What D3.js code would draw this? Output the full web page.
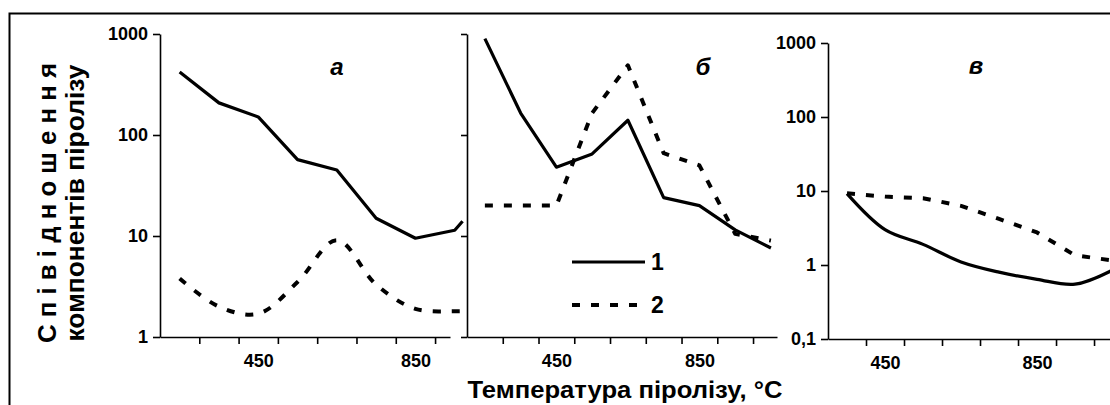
<!DOCTYPE html>
<html>
<head>
<meta charset="utf-8">
<script src="https://cdn.jsdelivr.net/npm/d3@7"></script>
<style>
  body { margin: 0; background: #fff; }
  text { font-family: "Liberation Sans", Arial, sans-serif; font-weight: bold; fill: #000; }
</style>
</head>
<body>
<script>
// Panel а
const tempsA = [250, 350, 450, 550, 650, 750, 850, 950, 970];
const aSolid = [420, 208, 151, 57, 45, 15, 9.5, 11.4, 14];
const aDashed = [3.8, 2.0, 1.7, 3.5, 9.1, 3.3, 1.9, 1.8, 1.8];

// Panel б
const tempsB = [250, 350, 450, 550, 650, 750, 850, 950, 1050];
const bSolid = [900, 165, 48, 65, 140, 24, 20, 11.5, 7.6];
const bDashed = [20, 20, 20, 165, 490, 66, 50, 10.5, 9];

// Panel в
const tempsV = [350, 450, 550, 650, 750, 850, 950, 1050];
const vSolid = [9.2, 3.0, 1.9, 1.1, 0.8, 0.64, 0.55, 0.86];
const vDashed = [9.3, 8.4, 8.0, 6.3, 4.2, 2.75, 1.35, 1.15];

// tick values / labels
const xTicks = [300, 400, 500, 600, 700, 800, 900, 1000];
const xLabels = [450, 850];
const yTicksAB = [1, 10, 100, 1000];
const yTicksV = [0.1, 1, 10, 100, 1000];
const panelTitles = ['а', 'б', 'в'];
const legendLabels = ['1', '2'];

const W = 1110, H = 405;
const svg = d3.select('body').append('svg').attr('width', W).attr('height', H);

// outer frame (left and top edges only)
svg.append('path').attr('d', `M9.5,${H} V13.5 H${W}`)
  .attr('fill', 'none').attr('stroke', '#000').attr('stroke-width', 2);

// scales
const xA = d3.scaleLinear().domain([200, 938]).range([160, 450]);
const xB = d3.scaleLinear().domain([200, 1067]).range([467, 777]);
const xV = d3.scaleLinear().domain([300, 1042]).range([828, 1110]);
const yAB = d3.scaleLog().domain([1, 1000]).range([337, 34]);
const yV = d3.scaleLog().domain([0.1, 1000]).range([339, 43]);

const fmt = d => d === 0.1 ? '0,1' : String(d);

function styleAxis(g) {
  g.selectAll('path, line').attr('stroke', '#000').attr('stroke-width', 1.6);
  g.selectAll('text').attr('font-size', 18).attr('fill', '#000')
    .attr('font-family', '"Liberation Sans", Arial, sans-serif').attr('font-weight', 'bold');
}

function drawPanel(x, y, yTicks, showYLabels, xAxisY, yAxisX) {
  const ticksIn = xTicks.filter(t => t > x.domain()[0] && t <= x.domain()[1]);
  svg.append('g').attr('transform', `translate(0,${xAxisY})`)
    .call(d3.axisBottom(x).tickValues(ticksIn).tickFormat('').tickSize(7).tickSizeOuter(0))
    .call(styleAxis);
  svg.append('g').attr('transform', `translate(0,${xAxisY})`)
    .call(d3.axisBottom(x).tickValues(xLabels).tickSize(0).tickPadding(17))
    .call(g => g.select('.domain').remove())
    .call(styleAxis);
  svg.append('g').attr('transform', `translate(${yAxisX},0)`)
    .call(d3.axisLeft(y).tickValues(yTicks).tickFormat(showYLabels ? fmt : '')
      .tickSize(showYLabels ? 7 : 6).tickPadding(5).tickSizeOuter(0))
    .call(styleAxis);
}

drawPanel(xA, yAB, yTicksAB, true, 337, 160);
drawPanel(xB, yAB, yTicksAB, false, 337, 467);
drawPanel(xV, yV, yTicksV, true, 339, 828);

function drawSeries(x, y, temps, vals, dashed, curve) {
  const pts = temps.map((t, i) => [t, vals[i]]).filter(d => d[1] != null);
  const line = d3.line().x(d => x(d[0])).y(d => y(d[1])).curve(curve);
  svg.append('path').datum(pts).attr('d', line)
    .attr('fill', 'none').attr('stroke', '#000')
    .attr('stroke-width', dashed ? 4 : 3.2)
    .attr('stroke-dasharray', dashed ? '8,11' : null)
    .attr('stroke-linejoin', 'round');
}

const smooth = d3.curveCatmullRom.alpha(0.5);
drawSeries(xA, yAB, tempsA, aSolid, false, d3.curveLinear);
drawSeries(xA, yAB, tempsA, aDashed, true, smooth);
drawSeries(xB, yAB, tempsB, bSolid, false, d3.curveLinear);
drawSeries(xB, yAB, tempsB, bDashed, true, d3.curveLinear);
drawSeries(xV, yV, tempsV, vSolid, false, smooth);
drawSeries(xV, yV, tempsV, vDashed, true, d3.curveLinear);

// panel letters
[[337, 75], [703, 75], [976, 74]].forEach((p, i) => {
  svg.append('text').attr('x', p[0]).attr('y', p[1]).attr('text-anchor', 'middle')
    .attr('font-size', 24).attr('font-style', 'italic').text(panelTitles[i]);
});

// legend in panel б
legendLabels.forEach((lab, i) => {
  const ly = 262 + i * 43;
  svg.append('line').attr('x1', 572).attr('x2', 645).attr('y1', ly).attr('y2', ly)
    .attr('stroke', '#000').attr('stroke-width', i ? 4 : 3.2)
    .attr('stroke-dasharray', i ? '8,11' : null);
  svg.append('text').attr('x', 651).attr('y', ly + 8).attr('font-size', 23).text(lab);
});

// axis titles
svg.append('text').attr('x', 625).attr('y', 398).attr('text-anchor', 'middle')
  .attr('font-size', 24).attr('textLength', 315).attr('lengthAdjust', 'spacingAndGlyphs')
  .text('Температура піролізу, °С');

svg.append('text').attr('transform', 'translate(56,203) rotate(-90)').attr('text-anchor', 'middle')
  .attr('font-size', 26).attr('textLength', 280).attr('lengthAdjust', 'spacingAndGlyphs')
  .text('С п і в і д н о ш е н н я');
svg.append('text').attr('transform', 'translate(84,203) rotate(-90)').attr('text-anchor', 'middle')
  .attr('font-size', 25).attr('textLength', 277).attr('lengthAdjust', 'spacingAndGlyphs')
  .text('компонентів піролізу');
</script>
</body>
</html>
